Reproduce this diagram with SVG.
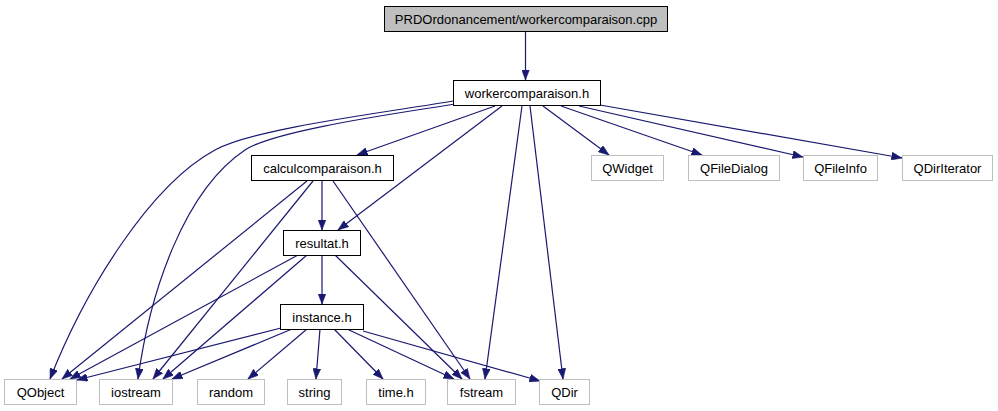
<svg xmlns="http://www.w3.org/2000/svg" width="998" height="411" viewBox="0 0 998 411">
<style>
.n rect{fill:#fff;stroke:#000;stroke-width:1}
.g rect{fill:#fff;stroke:#bfbfbf;stroke-width:1}
.top rect{fill:#bfbfbf;stroke:#000;stroke-width:1}
text{font-family:"Liberation Sans",Arial,sans-serif;font-size:13px;fill:#000;text-anchor:middle}
#edges path{fill:none;stroke:#191970;stroke-width:1.2;marker-end:url(#arr)}
</style>
<defs>
<marker id="arr" markerUnits="userSpaceOnUse" markerWidth="11" markerHeight="8" viewBox="0 0 11 8" refX="10.5" refY="4" orient="auto">
<path d="M0,0 L10.5,4 L0,8 z" fill="#191970" stroke="#191970" stroke-width="0.5"/>
</marker>
</defs>
<rect width="998" height="411" fill="#fff"/>
<g id="edges">
<path d="M525.5,31 L525.5,80"/>
<path d="M453,101 C390,112 255,128 215,150 C150,185 85,290 50,379"/>
<path d="M455,104 C400,113 275,130 245,150 C185,190 150,290 138,379"/>
<path d="M495,106 L357,155"/>
<path d="M502,106 L338,230"/>
<path d="M522,106 L485,379"/>
<path d="M530,106 L563,379"/>
<path d="M543,106 L609,155"/>
<path d="M561,106 L702,155"/>
<path d="M579,106 L803,157"/>
<path d="M600,105 L902,158"/>
<path d="M322,181 L322,230"/>
<path d="M307,181 L62,379"/>
<path d="M313,181 L153,379"/>
<path d="M333,181 L470,379"/>
<path d="M322,255 L322,304"/>
<path d="M298,255 L70,379"/>
<path d="M307,255 L163,379"/>
<path d="M335,255 L462,379"/>
<path d="M281,328 L77,380"/>
<path d="M292,329 L172,379"/>
<path d="M307,329 L248,379"/>
<path d="M320,329 L316,379"/>
<path d="M334,329 L383,379"/>
<path d="M347,329 L454,379"/>
<path d="M363,331 L540,381"/>
</g>
<g id="n_cpp" class="top"><rect x="384.5" y="6.5" width="283" height="25"/><text x="526" y="23.5">PRDOrdonancement/workercomparaison.cpp</text></g>
<g id="n_worker" class="n"><rect x="453.5" y="80.5" width="147" height="25"/><text x="527" y="97.5">workercomparaison.h</text></g>
<g id="n_calcul" class="n"><rect x="251.5" y="155.5" width="142" height="25"/><text x="322.5" y="172.5">calculcomparaison.h</text></g>
<g id="n_resultat" class="n"><rect x="283.5" y="230.5" width="77" height="25"/><text x="322" y="247.5">resultat.h</text></g>
<g id="n_instance" class="n"><rect x="280.5" y="304.5" width="83" height="25"/><text x="322" y="321.5">instance.h</text></g>
<g id="n_qwidget" class="g"><rect x="591.5" y="155.5" width="72" height="25"/><text x="627.5" y="172.5">QWidget</text></g>
<g id="n_qfiledialog" class="g"><rect x="688.5" y="155.5" width="91" height="25"/><text x="734" y="172.5">QFileDialog</text></g>
<g id="n_qfileinfo" class="g"><rect x="803.5" y="155.5" width="74" height="25"/><text x="840.5" y="172.5">QFileInfo</text></g>
<g id="n_qdiriterator" class="g"><rect x="902.5" y="155.5" width="90" height="25"/><text x="947.5" y="172.5">QDirIterator</text></g>
<g id="n_qobject" class="g"><rect x="4.5" y="379.5" width="72" height="25"/><text x="40.5" y="396.5">QObject</text></g>
<g id="n_iostream" class="g"><rect x="99.5" y="379.5" width="73" height="25"/><text x="136" y="396.5">iostream</text></g>
<g id="n_random" class="g"><rect x="197.5" y="379.5" width="67" height="25"/><text x="231" y="396.5">random</text></g>
<g id="n_string" class="g"><rect x="287.5" y="379.5" width="54" height="25"/><text x="314.5" y="396.5">string</text></g>
<g id="n_timeh" class="g"><rect x="366.5" y="379.5" width="59" height="25"/><text x="396" y="396.5">time.h</text></g>
<g id="n_fstream" class="g"><rect x="447.5" y="379.5" width="68" height="25"/><text x="481.5" y="396.5">fstream</text></g>
<g id="n_qdir" class="g"><rect x="539.5" y="379.5" width="50" height="25"/><text x="564.5" y="396.5">QDir</text></g>
</svg>
